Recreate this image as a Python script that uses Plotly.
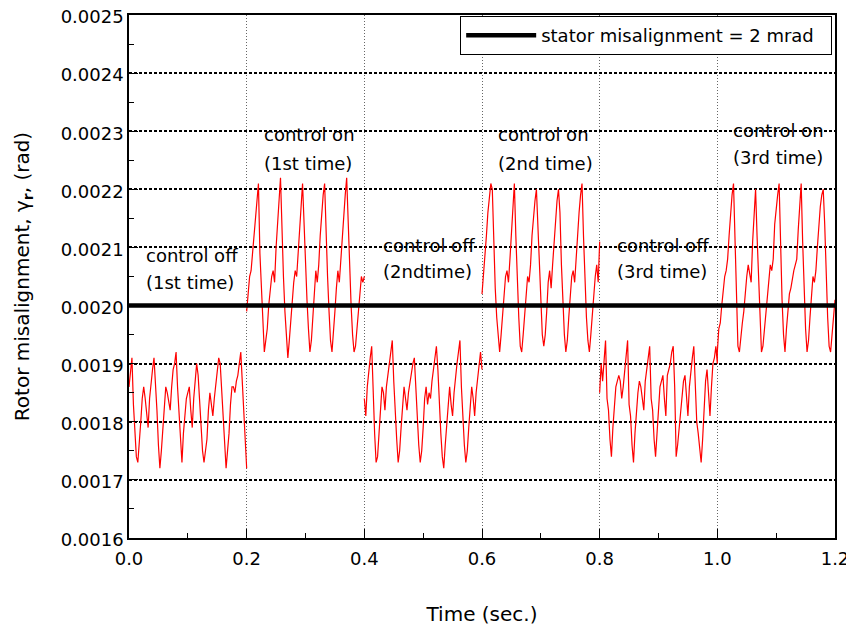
import numpy as np
import plotly.graph_objects as go

off1 = [186, 189, 191, 183, 178, 174, 173, 176, 180, 184,
        186, 184, 182, 179, 184, 187, 189, 191, 187, 182,
        176, 172, 175, 179, 183, 186, 185, 183, 182, 186,
        189, 190, 192, 186, 181, 177, 173, 178, 181, 184,
        185, 186, 182, 179, 184, 188, 190, 188, 183, 179,
        175, 173, 175, 177, 182, 185, 183, 181, 184, 186,
        189, 191, 190, 185, 181, 176, 172, 175, 178, 183,
        186, 186, 185, 187, 188, 190, 192, 187, 181, 176,
        172]
on1 = [199, 202, 205, 206, 209, 213, 216, 219, 221, 209,
       204, 199, 192, 194, 196, 200, 203, 205, 206, 204,
       210, 215, 218, 222, 211, 205, 199, 194, 191, 194,
       198, 201, 204, 206, 205, 209, 214, 217, 221, 213,
       207, 201, 196, 192, 194, 198, 203, 206, 204, 207,
       212, 216, 219, 221, 212, 205, 199, 194, 192, 195,
       199, 203, 206, 204, 208, 213, 216, 219, 222, 214,
       206, 200, 195, 192, 193, 196, 200, 203, 205, 204,
       205]
off2 = [184, 181, 186, 189, 191, 193, 184, 178, 173, 174,
        178, 183, 186, 185, 182, 186, 188, 190, 192, 194,
        187, 181, 177, 173, 175, 179, 183, 186, 184, 182,
        185, 187, 188, 190, 191, 186, 180, 176, 173, 175,
        179, 184, 186, 183, 185, 184, 187, 189, 191, 193,
        189, 182, 178, 174, 172, 176, 180, 184, 186, 183,
        181, 185, 188, 190, 192, 194, 186, 180, 176, 173,
        175, 179, 183, 186, 184, 181, 185, 187, 190, 192,
        189]
on2 = [202, 205, 208, 212, 216, 219, 221, 220, 210, 203,
       198, 194, 192, 195, 199, 203, 205, 206, 204, 208,
       213, 217, 221, 212, 204, 198, 193, 192, 195, 199,
       203, 205, 204, 207, 212, 216, 218, 220, 213, 206,
       200, 195, 193, 195, 199, 204, 206, 203, 207, 211,
       215, 218, 220, 216, 207, 200, 195, 192, 194, 198,
       202, 205, 206, 204, 208, 213, 216, 219, 221, 212,
       204, 198, 194, 192, 195, 199, 203, 205, 207, 204,
       211]
off3 = [185, 190, 187, 191, 194, 184, 182, 177, 174, 179,
        183, 186, 187, 188, 187, 184, 186, 189, 191, 194,
        183, 181, 176, 173, 178, 182, 185, 187, 186, 184,
        182, 187, 189, 192, 193, 184, 182, 177, 174, 178,
        182, 186, 187, 188, 184, 181, 188, 189, 190, 192,
        193, 186, 174, 176, 179, 181, 185, 187, 188, 184,
        181, 186, 189, 191, 193, 185, 180, 178, 176, 173,
        177, 182, 187, 189, 185, 181, 186, 190, 191, 193,
        190]
on3 = [192, 196, 197, 200, 203, 205, 206, 208, 212, 216,
       219, 221, 210, 200, 193, 192, 195, 197, 199, 203,
       205, 207, 205, 204, 211, 217, 220, 212, 204, 197,
       192, 193, 196, 199, 202, 205, 207, 206, 208, 214,
       217, 219, 221, 210, 201, 195, 192, 196, 200, 202,
       203, 205, 206, 207, 208, 213, 218, 221, 211, 202,
       196, 192, 194, 198, 202, 205, 204, 206, 210, 214,
       217, 219, 220, 214, 205, 198, 193, 192, 195, 198,
       201]
UNIT = 1e-5  # rad per unit of the lists above

segment_starts = [0.0, 0.2, 0.4, 0.6, 0.8, 1.0]
segment_ends = [0.2, 0.4, 0.6, 0.8, 1.0, 1.2]
segment_values = [off1, on1, off2, on2, off3, on3]
connected_to_previous = [False, False, False, False, False, True]

stator_misalignment = 0.002
legend_label = "stator misalignment = 2 mrad\u00a0\u00a0"

label_lines = [
    ("control off", 0.0255, 0.002087), ("(1st time)", 0.0255, 0.002039),
    ("control on", 0.2261, 0.002295), ("(1st time)", 0.2261, 0.002245),
    ("control off", 0.4284, 0.002104), ("(2ndtime)", 0.4284, 0.002058),
    ("control on", 0.6239, 0.002295), ("(2nd time)", 0.6239, 0.002245),
    ("control off", 0.8260, 0.002104), ("(3rd time)", 0.8260, 0.002058),
    ("control on", 1.0234, 0.002302), ("(3rd time)", 1.0234, 0.002254),
]

xs, ys = [], []
for k, (a, b, vals) in enumerate(zip(segment_starts, segment_ends, segment_values)):
    t = np.linspace(a, b, len(vals))
    if k > 0 and not connected_to_previous[k]:
        xs.append(None)
        ys.append(None)
    xs += list(t)
    ys += [v * UNIT for v in vals]

FONT = "DejaVu Sans"
fig = go.Figure()
fig.add_trace(go.Scatter(x=xs, y=ys, mode="lines", connectgaps=False,
                         line=dict(color="#ff0000", width=1.2), showlegend=False,
                         hoverinfo="skip"))
fig.add_trace(go.Scatter(x=[0, 1.2], y=[stator_misalignment] * 2, mode="lines",
                         line=dict(color="black", width=4.5), name=legend_label))

for txt, x, y in label_lines:
    fig.add_annotation(x=x, y=y, text=txt, showarrow=False, xanchor="left",
                       yanchor="middle", font=dict(family=FONT, size=18, color="black"))

# The page body has an 8px margin, so the figure is sized 8px smaller and margins adjusted.
fig.update_layout(
    width=846, height=627,
    margin=dict(l=121, r=19, t=7, b=97, autoexpand=False),
    paper_bgcolor="white", plot_bgcolor="white",
    font=dict(family=FONT, size=18, color="black"),
    showlegend=True,
    legend=dict(x=0.996, xanchor="right", y=0.998, yanchor="top",
                bgcolor="white", bordercolor="black", borderwidth=1,
                font=dict(family=FONT, size=18, color="black"),
                itemwidth=70, tracegroupgap=0),
    xaxis=dict(range=[0, 1.2], tick0=0, dtick=0.2, tickformat=".1f",
               ticks="inside", ticklen=9, tickwidth=1, tickcolor="black",
               minor=dict(dtick=0.1, ticks="inside", ticklen=5, tickcolor="black", showgrid=False),
               showgrid=True, gridcolor="#666666", griddash="1px,2px", gridwidth=1,
               showline=True, linecolor="black", linewidth=1.5, mirror=True,
               zeroline=False, automargin=False, ticklabeloverflow="allow",
               ticklabelstandoff=4,
               title=dict(text="Time (sec.)", font=dict(family=FONT, size=20), standoff=39)),
    yaxis=dict(range=[0.0016, 0.0025], tick0=0.0016, dtick=0.0001, tickformat=".4f",
               ticks="inside", ticklen=9, tickwidth=1, tickcolor="black",
               minor=dict(dtick=0.00005, ticks="inside", ticklen=5, tickcolor="black", showgrid=False),
               showgrid=True, gridcolor="black", griddash="3px,2px", gridwidth=1.5,
               showline=True, linecolor="black", linewidth=1.5, mirror=True,
               zeroline=False, automargin=False, ticklabeloverflow="allow",
               ticklabelshift=2,
               title=dict(text="Rotor misalignment, γ<sub><b>r</b></sub>, (rad)",
                          font=dict(family=FONT, size=20), standoff=26)),
)

fig.write_html("out.html")
